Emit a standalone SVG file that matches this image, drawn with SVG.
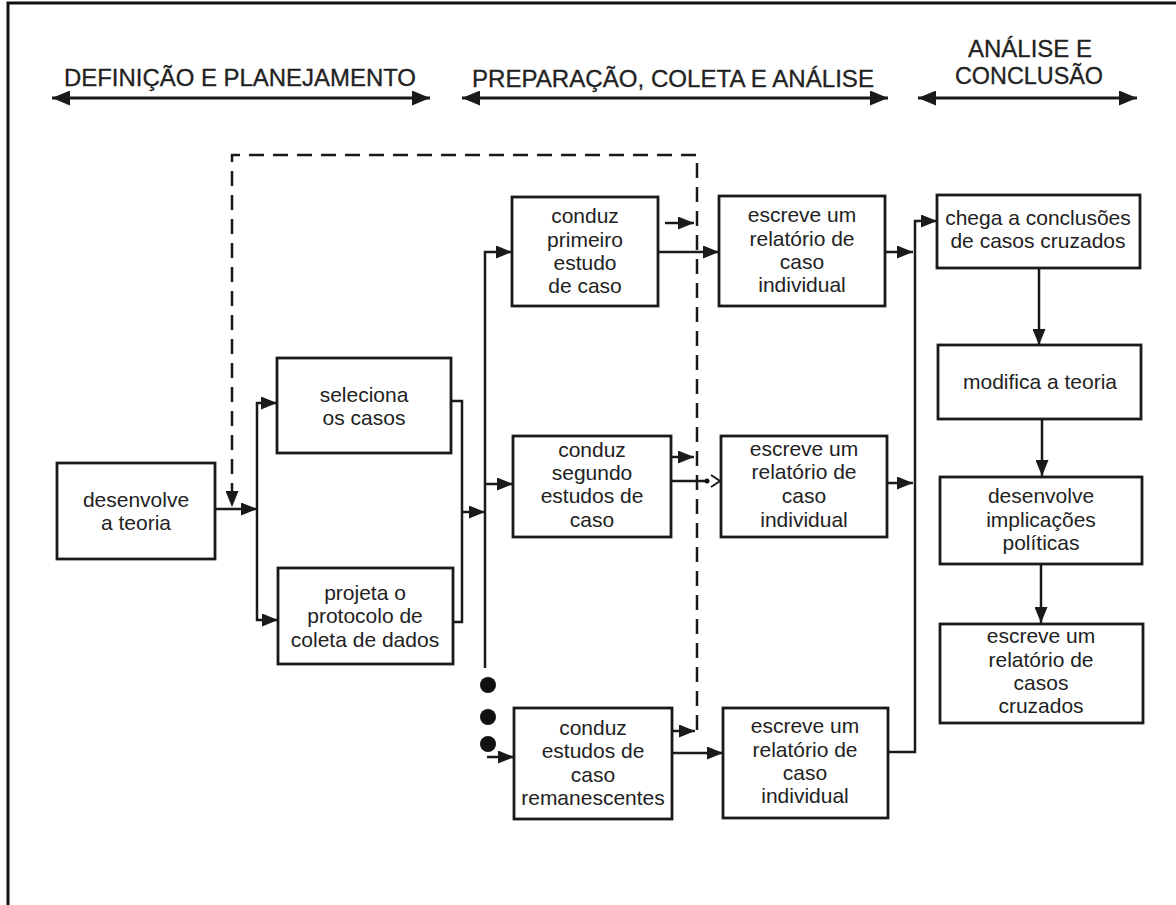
<svg xmlns="http://www.w3.org/2000/svg" width="1176" height="905" viewBox="0 0 1176 905">
<style>
.bx{fill:#fff;stroke:#1a1a1a;stroke-width:2.8}
.t{font-family:"Liberation Sans",Arial,sans-serif;font-size:21px;fill:#222;text-anchor:middle}
.h{font-family:"Liberation Sans",Arial,sans-serif;font-size:23px;fill:#222;stroke:#222;stroke-width:0.3}
.c{fill:none;stroke:#1a1a1a;stroke-width:2.5}
.a{marker-end:url(#ah)}
.d{stroke-dasharray:15 9}
.hd{fill:none;stroke:#1a1a1a;stroke-width:3;marker-start:url(#hb);marker-end:url(#hb)}
</style>
<defs>
<marker id="ah" viewBox="0 0 16 13" refX="16" refY="6.5" markerWidth="16" markerHeight="13" markerUnits="userSpaceOnUse" orient="auto"><path d="M0,0 L16,6.5 L0,13 z" fill="#1a1a1a"/></marker>
<marker id="hb" viewBox="0 0 18 15" refX="18" refY="7.5" markerWidth="18" markerHeight="15" markerUnits="userSpaceOnUse" orient="auto-start-reverse"><path d="M0,0 L18,7.5 L0,15 z" fill="#1a1a1a"/></marker>
</defs>
<rect width="1176" height="905" fill="#fff"/>
<g id="frame" fill="none" stroke="#111" stroke-width="3">
<path d="M8,905 V3 H1176"/>
</g>
<g id="headers">
<text class="h" x="64" y="86" textLength="352" lengthAdjust="spacingAndGlyphs">DEFINIÇÃO E PLANEJAMENTO</text>
<text class="h" x="472" y="87" textLength="402" lengthAdjust="spacingAndGlyphs">PREPARAÇÃO, COLETA E ANÁLISE</text>
<text class="h" x="968" y="57" textLength="124" lengthAdjust="spacingAndGlyphs">ANÁLISE E</text>
<text class="h" x="955" y="84" textLength="148" lengthAdjust="spacingAndGlyphs">CONCLUSÃO</text>
</g>
<g id="connectors">
<path class="hd" d="M52,98 H430"/>
<path class="hd" d="M462,98 H888"/>
<path class="hd" d="M918,98 H1137"/>
<path class="c a" d="M215,509 H257"/>
<path class="c a" d="M257,509 V403 H277"/>
<path class="c a" d="M257,509 V620 H278"/>
<path class="c" d="M451,401 H462 V622 H453"/>
<path class="c a" d="M462,512 H485"/>
<path class="c a" d="M485,668 V252 H512"/>
<path class="c a" d="M485,484 H513"/>
<path class="c a" d="M487,757 H514"/>
<circle cx="488" cy="685" r="8" fill="#111"/>
<circle cx="488" cy="717" r="8" fill="#111"/>
<circle cx="488" cy="744" r="8" fill="#111"/>
<path class="c a" d="M665,223 H694"/>
<path class="c a" d="M658,252 H719"/>
<path class="c a" d="M671,457 H694"/>
<path class="c" d="M671,481 H705"/>
<circle cx="707" cy="481" r="2.5" fill="#111"/>
<path d="M711,475 L720,481 L711,487" fill="none" stroke="#1a1a1a" stroke-width="2"/>
<path class="c a" d="M672,731 H695"/>
<path class="c a" d="M672,753 H723"/>
<path class="c a" d="M885,252 H913"/>
<path class="c a" d="M887,483 H913"/>
<path class="c a" d="M888,752 H915 V221 H937"/>
<path class="c d a" d="M697,730 V155 H232 V507"/>
<path class="c a" d="M1039,268 V345"/>
<path class="c a" d="M1042,419 V476"/>
<path class="c a" d="M1041,564 V623"/>
</g>
<g id="n_desenvolve">
<rect class="bx" x="57" y="463" width="158" height="96"/>
<text class="t" x="136" y="507">desenvolve</text>
<text class="t" x="136" y="530">a teoria</text>
</g>
<g id="n_seleciona">
<rect class="bx" x="277" y="358" width="174" height="95"/>
<text class="t" x="364" y="402">seleciona</text>
<text class="t" x="364" y="425">os casos</text>
</g>
<g id="n_projeta">
<rect class="bx" x="278" y="568" width="175" height="96"/>
<text class="t" x="365" y="600">projeta o</text>
<text class="t" x="365" y="623">protocolo de</text>
<text class="t" x="365" y="647">coleta de dados</text>
</g>
<g id="n_primeiro">
<rect class="bx" x="512" y="197" width="146" height="109"/>
<text class="t" x="585" y="223">conduz</text>
<text class="t" x="585" y="247">primeiro</text>
<text class="t" x="585" y="270">estudo</text>
<text class="t" x="585" y="293">de caso</text>
</g>
<g id="n_segundo">
<rect class="bx" x="513" y="436" width="158" height="101"/>
<text class="t" x="592" y="457">conduz</text>
<text class="t" x="592" y="480">segundo</text>
<text class="t" x="592" y="503">estudos de</text>
<text class="t" x="592" y="527">caso</text>
</g>
<g id="n_remanescentes">
<rect class="bx" x="514" y="708" width="158" height="111"/>
<text class="t" x="593" y="735">conduz</text>
<text class="t" x="593" y="758">estudos de</text>
<text class="t" x="593" y="782">caso</text>
<text class="t" x="593" y="805">remanescentes</text>
</g>
<g id="n_relatorio1">
<rect class="bx" x="719" y="196" width="166" height="110"/>
<text class="t" x="802" y="222">escreve um</text>
<text class="t" x="802" y="246">relatório de</text>
<text class="t" x="802" y="269">caso</text>
<text class="t" x="802" y="292">individual</text>
</g>
<g id="n_relatorio2">
<rect class="bx" x="721" y="436" width="166" height="101"/>
<text class="t" x="804" y="456">escreve um</text>
<text class="t" x="804" y="479">relatório de</text>
<text class="t" x="804" y="503">caso</text>
<text class="t" x="804" y="527">individual</text>
</g>
<g id="n_relatorio3">
<rect class="bx" x="723" y="708" width="165" height="110"/>
<text class="t" x="805" y="733">escreve um</text>
<text class="t" x="805" y="757">relatório de</text>
<text class="t" x="805" y="780">caso</text>
<text class="t" x="805" y="803">individual</text>
</g>
<g id="n_chega">
<rect class="bx" x="937" y="195" width="203" height="73"/>
<text class="t" x="1038" y="225">chega a conclusões</text>
<text class="t" x="1038" y="248">de casos cruzados</text>
</g>
<g id="n_modifica">
<rect class="bx" x="938" y="345" width="203" height="74"/>
<text class="t" x="1040" y="389">modifica a teoria</text>
</g>
<g id="n_implicacoes">
<rect class="bx" x="940" y="477" width="202" height="87"/>
<text class="t" x="1041" y="503">desenvolve</text>
<text class="t" x="1041" y="527">implicações</text>
<text class="t" x="1041" y="550">políticas</text>
</g>
<g id="n_relatorio_cruzado">
<rect class="bx" x="940" y="624" width="203" height="99"/>
<text class="t" x="1041" y="643">escreve um</text>
<text class="t" x="1041" y="667">relatório de</text>
<text class="t" x="1041" y="690">casos</text>
<text class="t" x="1041" y="713">cruzados</text>
</g>
</svg>
